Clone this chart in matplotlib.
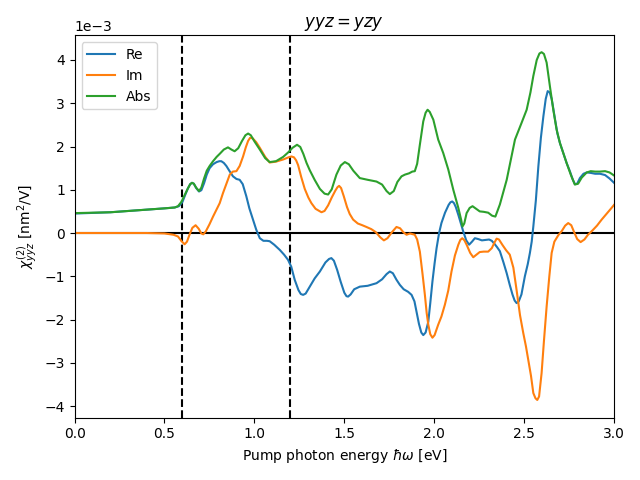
import matplotlib.pyplot as plt
import numpy as np

# Data (chi values in units of 1e-3 nm^2/V)
re_x = [0.0, 0.2, 0.4, 0.5, 0.557, 0.58, 0.6, 0.615, 0.63, 0.643, 0.653, 0.663, 0.676, 0.692,
        0.705, 0.72, 0.735, 0.751, 0.77, 0.79, 0.805, 0.816, 0.83, 0.844, 0.862, 0.881, 0.9,
        0.918, 0.935, 0.955, 0.972, 0.992, 1.01, 1.03, 1.05, 1.07, 1.085, 1.11, 1.141, 1.165,
        1.187, 1.205, 1.224, 1.245, 1.258, 1.271, 1.285, 1.308, 1.335, 1.364, 1.395, 1.415,
        1.428, 1.442, 1.46, 1.48, 1.5, 1.512, 1.521, 1.535, 1.555, 1.586, 1.63, 1.679, 1.71,
        1.735, 1.753, 1.77, 1.79, 1.809, 1.83, 1.855, 1.874, 1.89, 1.901, 1.915, 1.928, 1.939,
        1.952, 1.967, 1.978, 1.99, 2.002, 2.013, 2.027, 2.04, 2.06, 2.08, 2.09, 2.1, 2.11, 2.12,
        2.134, 2.148, 2.161, 2.178, 2.194, 2.21, 2.226, 2.245, 2.265, 2.285, 2.305, 2.32, 2.335,
        2.35, 2.365, 2.385, 2.403, 2.42, 2.435, 2.447, 2.458, 2.47, 2.485, 2.504, 2.52, 2.532,
        2.542, 2.551, 2.565, 2.579, 2.593, 2.607, 2.62, 2.631, 2.642, 2.653, 2.662, 2.672, 2.685,
        2.699, 2.72, 2.736, 2.755, 2.77, 2.782, 2.795, 2.81, 2.83, 2.848, 2.87, 2.895, 2.922,
        2.95, 2.975, 3.0]
re_y = [0.45, 0.48, 0.54, 0.57, 0.59, 0.62, 0.72, 0.88, 1.03, 1.13, 1.16, 1.14, 1.04, 0.96,
        0.99, 1.15, 1.35, 1.50, 1.59, 1.64, 1.66, 1.66, 1.62, 1.55, 1.43, 1.31, 1.25, 1.23,
        1.13, 0.85, 0.57, 0.31, 0.08, -0.12, -0.18, -0.18, -0.19, -0.27, -0.39, -0.50, -0.62,
        -0.78, -1.08, -1.32, -1.41, -1.43, -1.40, -1.24, -1.05, -0.89, -0.68, -0.60, -0.58,
        -0.64, -0.85, -1.13, -1.38, -1.46, -1.47, -1.42, -1.30, -1.24, -1.22, -1.16, -1.07,
        -0.95, -0.89, -0.93, -1.08, -1.20, -1.30, -1.36, -1.43, -1.58, -1.81, -2.10, -2.30,
        -2.36, -2.30, -2.05, -1.62, -1.12, -0.70, -0.35, 0.00, 0.23, 0.47, 0.65, 0.71, 0.73,
        0.69, 0.60, 0.42, 0.22, 0.04, -0.17, -0.27, -0.20, -0.12, -0.14, -0.17, -0.16, -0.15,
        -0.18, -0.25, -0.33, -0.42, -0.68, -0.93, -1.20, -1.42, -1.56, -1.62, -1.58, -1.42,
        -1.00, -0.72, -0.46, -0.20, 0.15, 0.75, 1.54, 2.20, 2.70, 3.10, 3.28, 3.25, 3.10, 2.88,
        2.62, 2.30, 2.08, 1.82, 1.62, 1.42, 1.24, 1.13, 1.14, 1.27, 1.37, 1.40, 1.39, 1.37,
        1.37, 1.34, 1.26, 1.16]

im_x = [0.0, 0.4, 0.45, 0.5, 0.55, 0.575, 0.595, 0.612, 0.625, 0.64, 0.655, 0.673, 0.69, 0.705,
        0.716, 0.73, 0.75, 0.77, 0.79, 0.807, 0.825, 0.845, 0.863, 0.88, 0.9, 0.918, 0.937,
        0.952, 0.965, 0.976, 0.99, 1.01, 1.03, 1.06, 1.085, 1.12, 1.16, 1.19, 1.206, 1.22, 1.232,
        1.243, 1.26, 1.28, 1.3, 1.317, 1.34, 1.364, 1.373, 1.39, 1.41, 1.43, 1.45, 1.462, 1.471,
        1.482, 1.497, 1.515, 1.53, 1.549, 1.575, 1.6, 1.623, 1.65, 1.675, 1.7, 1.72, 1.74, 1.765,
        1.79, 1.81, 1.828, 1.846, 1.865, 1.892, 1.905, 1.92, 1.935, 1.948, 1.958, 1.967, 1.978,
        1.99, 2.002, 2.022, 2.04, 2.059, 2.078, 2.096, 2.115, 2.134, 2.145, 2.156, 2.168, 2.18,
        2.2, 2.217, 2.235, 2.253, 2.275, 2.3, 2.32, 2.335, 2.347, 2.36, 2.38, 2.4, 2.42, 2.44,
        2.458, 2.477, 2.495, 2.51, 2.523, 2.538, 2.551, 2.563, 2.573, 2.583, 2.597, 2.61, 2.625,
        2.64, 2.653, 2.668, 2.69, 2.71, 2.728, 2.745, 2.762, 2.78, 2.795, 2.814, 2.835, 2.855,
        2.88, 2.905, 2.931, 2.96, 2.98, 3.0]
im_y = [0.0, 0.0, -0.005, -0.01, -0.04, -0.08, -0.19, -0.26, -0.20, -0.03, 0.12, 0.18, 0.10,
        -0.01, -0.03, 0.04, 0.20, 0.38, 0.55, 0.69, 0.92, 1.15, 1.35, 1.42, 1.43, 1.55, 1.77,
        1.98, 2.13, 2.20, 2.19, 2.10, 1.97, 1.76, 1.63, 1.65, 1.70, 1.75, 1.77, 1.75, 1.68,
        1.57, 1.30, 1.02, 0.82, 0.69, 0.56, 0.50, 0.48, 0.51, 0.64, 0.82, 0.98, 1.06, 1.09,
        1.04, 0.85, 0.60, 0.44, 0.31, 0.22, 0.18, 0.14, 0.09, 0.02, -0.10, -0.17, -0.12, 0.02,
        0.14, 0.11, 0.02, -0.04, -0.01, -0.04, -0.15, -0.43, -0.95, -1.43, -1.85, -2.12, -2.34,
        -2.42, -2.36, -2.12, -1.93, -1.66, -1.33, -0.89, -0.52, -0.27, -0.16, -0.12, -0.17,
        -0.27, -0.46, -0.56, -0.50, -0.44, -0.43, -0.43, -0.35, -0.22, -0.13, -0.15, -0.28,
        -0.40, -0.50, -0.80, -1.32, -1.90, -2.31, -2.62, -2.93, -3.30, -3.70, -3.82, -3.86,
        -3.78, -3.24, -2.50, -1.70, -1.00, -0.46, -0.20, -0.05, 0.05, 0.17, 0.23, 0.18, 0.00,
        -0.14, -0.21, -0.15, -0.04, 0.06, 0.17, 0.31, 0.45, 0.55, 0.65]

abs_x = [0.0, 0.2, 0.3, 0.4, 0.5, 0.557, 0.575, 0.594, 0.61, 0.63, 0.643, 0.653, 0.663, 0.676,
         0.692, 0.705, 0.72, 0.735, 0.751, 0.77, 0.79, 0.807, 0.83, 0.853, 0.872, 0.89, 0.91,
         0.93, 0.95, 0.965, 0.98, 1.0, 1.03, 1.06, 1.085, 1.12, 1.16, 1.187, 1.212, 1.237, 1.255,
         1.272, 1.29, 1.308, 1.335, 1.364, 1.39, 1.41, 1.43, 1.456, 1.48, 1.503, 1.525, 1.55,
         1.586, 1.63, 1.679, 1.71, 1.735, 1.753, 1.775, 1.795, 1.818, 1.837, 1.86, 1.878, 1.892,
         1.905, 1.92, 1.939, 1.952, 1.963, 1.975, 1.995, 2.022, 2.05, 2.078, 2.106, 2.134, 2.15,
         2.157, 2.167, 2.18, 2.197, 2.213, 2.233, 2.253, 2.275, 2.3, 2.322, 2.34, 2.365, 2.403,
         2.449, 2.486, 2.514, 2.535, 2.551, 2.57, 2.585, 2.597, 2.61, 2.625, 2.643, 2.662, 2.68,
         2.699, 2.736, 2.76, 2.782, 2.8, 2.82, 2.848, 2.87, 2.895, 2.922, 2.95, 2.975, 3.0]
abs_y = [0.46, 0.48, 0.51, 0.54, 0.57, 0.59, 0.62, 0.72, 0.86, 1.03, 1.13, 1.16, 1.14, 1.05,
         0.97, 1.05, 1.26, 1.44, 1.55, 1.66, 1.76, 1.83, 1.93, 1.98, 1.93, 1.89, 1.96, 2.12,
         2.26, 2.30, 2.26, 2.12, 1.93, 1.73, 1.64, 1.66, 1.76, 1.86, 1.97, 2.04, 1.99, 1.83,
         1.62, 1.45, 1.23, 1.02, 0.91, 0.89, 1.01, 1.35, 1.56, 1.64, 1.59, 1.44, 1.27, 1.23,
         1.19, 1.12, 0.97, 0.90, 0.97, 1.18, 1.31, 1.35, 1.38, 1.42, 1.43, 1.60, 2.04, 2.58,
         2.78, 2.85, 2.80, 2.62, 2.16, 1.85, 1.47, 1.00, 0.58, 0.30, 0.15, 0.22, 0.46, 0.58,
         0.62, 0.56, 0.50, 0.49, 0.47, 0.40, 0.38, 0.66, 1.23, 2.16, 2.55, 2.85, 3.25, 3.63,
         4.00, 4.15, 4.18, 4.14, 3.94, 3.40, 2.85, 2.40, 2.08, 1.62, 1.34, 1.12, 1.14, 1.28,
         1.40, 1.43, 1.42, 1.42, 1.43, 1.40, 1.33]

scale = 1e-3

fig, ax = plt.subplots(figsize=(6.4, 4.8), dpi=100)

ax.axhline(0, color='black', lw=1.5)
ax.axvline(0.6, color='black', ls='--', lw=1.5)
ax.axvline(1.2, color='black', ls='--', lw=1.5)

ax.plot(re_x, np.array(re_y) * scale, label='Re')
ax.plot(im_x, np.array(im_y) * scale, label='Im')
ax.plot(abs_x, np.array(abs_y) * scale, label='Abs')

ax.set_xlim(0, 3)
ax.set_ylim(-4.27e-3, 4.57e-3)
ax.ticklabel_format(axis='y', style='sci', scilimits=(0, 0))
ax.set_xlabel(r'Pump photon energy $\hbar\omega$ [eV]')
ax.set_ylabel(r'$\chi^{(2)}_{yyz}$ [nm$^2$/V]')
ax.set_title(r'$yyz = yzy$')
ax.legend(loc='upper left')

fig.tight_layout()
fig.savefig('out.png')
